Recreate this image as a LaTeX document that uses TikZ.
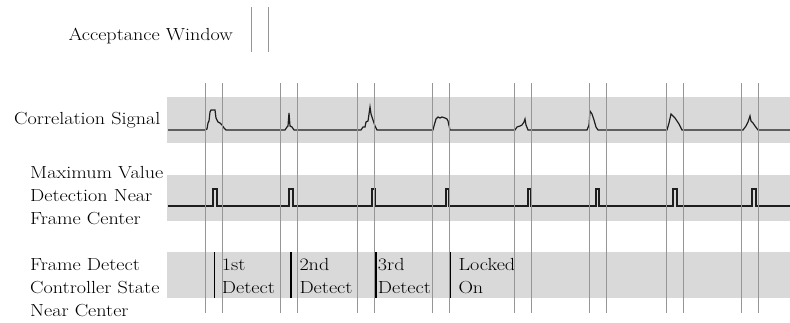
\documentclass[tikz,border=0pt]{standalone}
\usepackage{graphicx}
% labels are set slightly wide
\newcommand\wtxt[1]{\scalebox{1.15}[1]{#1}}
\begin{document}
\begin{tikzpicture}[x=1pt,y=-1pt,
  band/.style={fill=bandgray,draw=none},
  winline/.style={draw=wingray,line width=1pt},
  signal/.style={draw=sigblack,line width=1.2pt,line join=miter},
  marker/.style={draw=black,line width=1.6pt},
  lbl/.style={anchor=base west,inner sep=0pt,font=\fontsize{17.5}{21}\selectfont},
  lblr/.style={anchor=base east,inner sep=0pt,font=\fontsize{17.5}{21}\selectfont}]
\definecolor{bandgray}{RGB}{217,217,217}
\definecolor{wingray}{RGB}{150,150,150}
\definecolor{sigblack}{RGB}{30,30,30}
\useasboundingbox (0,0) rectangle (790,322);

% shaded bands behind the three traces
\fill[band] (167,97) rectangle (790,143);
\fill[band] (167,175) rectangle (790,221);
\fill[band] (167,252) rectangle (790,298);

% legend: acceptance window
\node[lblr] (accept) at (233,40) {\wtxt{Acceptance Window}};
\coordinate (aw1t) at (251.7,7);  \coordinate (aw1b) at (251.7,52);
\coordinate (aw2t) at (268.3,7);  \coordinate (aw2b) at (268.3,52);
\draw[winline] (aw1t) -- (aw1b);
\draw[winline] (aw2t) -- (aw2b);

% row labels
\node[lbl] (corr) at (14,124.5) {\wtxt{Correlation Signal}};
\node[lbl] (mv1) at (30,178.5) {\wtxt{Maximum Value}};
\node[lbl] (mv2) at (30,201.5) {\wtxt{Detection Near}};
\node[lbl] (mv3) at (30,224.5) {\wtxt{Frame Center}};
\node[lbl] (fd1) at (30,270) {\wtxt{Frame Detect}};
\node[lbl] (fd2) at (30,293.3) {\wtxt{Controller State}};
\node[lbl] (fd3) at (30,316) {\wtxt{Near Center}};

% controller state labels
\node[lbl] (s1a) at (221.7,270) {\wtxt{1st}};
\node[lbl] (s1b) at (221.7,293.3) {\wtxt{Detect}};
\node[lbl] (s2a) at (299.3,270) {\wtxt{2nd}};
\node[lbl] (s2b) at (299.3,293.3) {\wtxt{Detect}};
\node[lbl] (s3a) at (377.7,270) {\wtxt{3rd}};
\node[lbl] (s3b) at (377.7,293.3) {\wtxt{Detect}};
\node[lbl] (s4a) at (458.3,270) {\wtxt{Locked}};
\node[lbl] (s4b) at (458.3,293.3) {\wtxt{On}};

% correlation trace
\draw[signal] (168,130) -- (205,130) -- (207,129) -- (208,123) -- (209,121) -- (210,112) -- (211,110)
  -- (215,110) -- (216,118) -- (218,122) -- (220,123) -- (222,125) -- (224,128) -- (226,130)
  -- (285,130) -- (287,127) -- (288,126) -- (289,113) -- (290,126) -- (292,127) -- (294,130)
  -- (361,130) -- (363,127) -- (365,127) -- (366,122) -- (368,121) -- (369,114) -- (370,107)
  -- (371,114) -- (373,120) -- (375,126) -- (377,130)
  -- (433,130) -- (434,126) -- (436,119) -- (438,117) -- (440,118) -- (442,117) -- (445,118)
  -- (447,119) -- (448,121) -- (450,130)
  -- (515,130) -- (517,127) -- (520,126) -- (522,125) -- (524,122) -- (525,119) -- (526,125) -- (528,130)
  -- (587,130) -- (589,125) -- (590,111) -- (592,114) -- (594,120) -- (596,127) -- (598,130)
  -- (667,130) -- (669,123) -- (671,114) -- (673,116) -- (675,118) -- (677,121) -- (679,124) -- (682,130)
  -- (743,130) -- (746,126) -- (748,122) -- (749,119) -- (750,116) -- (751,121) -- (753,123)
  -- (755,126) -- (758,130) -- (790,130);

% maximum value detection trace
\draw[signal] (168,206)
  \foreach \a/\b in {213/217,289/293,372/375,446/449,528/531,596/599,673/677,752/756}
    { -- (\a,206) -- (\a,189) -- (\b,189) -- (\b,206) }
  -- (790,206);

% controller state change markers
\foreach \i/\x in {1/214.5,2/291,3/376,4/450}{
  \coordinate (m\i t) at (\x,252);
  \coordinate (m\i b) at (\x,298);
  \draw[marker] (m\i t) -- (m\i b);
}

% acceptance window lines around each frame
\foreach \i/\l/\r in {1/205.7/222.3,2/280.7/297.3,3/357.3/374,4/432/449,
                      5/514.7/531.7,6/589.7/606.7,7/666.3/683,8/741.3/758}{
  \coordinate (w\i lt) at (\l,83);  \coordinate (w\i lb) at (\l,313);
  \coordinate (w\i rt) at (\r,83);  \coordinate (w\i rb) at (\r,313);
  \draw[winline] (w\i lt) -- (w\i lb);
  \draw[winline] (w\i rt) -- (w\i rb);
}
\end{tikzpicture}
\end{document}
